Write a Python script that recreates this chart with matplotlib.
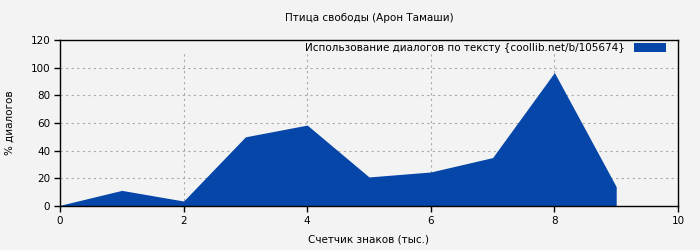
import matplotlib
matplotlib.use("Agg")
import matplotlib.pyplot as plt

# data
chars_k = [0, 1, 2, 3, 4, 5, 6, 7, 8, 9]
dialog_pct = [0.5, 11.3, 3.6, 50, 58.5, 21, 24.6, 35, 96.5, 14]
x_ticks = [0, 2, 4, 6, 8, 10]
y_ticks = [0, 20, 40, 60, 80, 100, 120]

title = "Птица свободы (Арон Тамаши)"
series_label = "Использование диалогов по тексту {coollib.net/b/105674}"
x_label = "Счетчик знаков (тыс.)"
y_label = "% диалогов"

bg = "#f3f3f3"
fill_color = "#0646a8"

plt.rcParams["font.family"] = ["DejaVu Sans"]
plt.rcParams["font.size"] = 7.5

fig = plt.figure(figsize=(7, 2.5), dpi=100, facecolor=bg)
ax = fig.add_axes([60 / 700, 1 - 206 / 250, 618 / 700, 166 / 250], facecolor=bg)

ax.fill_between(chars_k, dialog_pct, 0, color=fill_color, linewidth=0, label=series_label)

ax.set_xlim(0, 10)
ax.set_ylim(0, 120)
ax.set_xticks(x_ticks)
ax.set_yticks(y_ticks)

# grid: horizontal full width, vertical stops below the legend band
for y in y_ticks[1:-1]:
    ax.axhline(y, color="#aaaaaa", linestyle=(0, (2, 3)), linewidth=0.8, zorder=0)
for x in x_ticks[1:-1]:
    ax.axvline(x, ymax=0.92, color="#aaaaaa", linestyle=(0, (2, 3)), linewidth=0.8, zorder=0)

for s in ax.spines.values():
    s.set_linewidth(1)
    s.set_color("black")
ax.tick_params(direction="out", length=4, width=1, pad=3)

leg = ax.legend(loc="upper right", bbox_to_anchor=(0.989, 1.012), frameon=False,
                markerfirst=False, handlelength=3.1, handleheight=0.9,
                borderaxespad=0.1, handletextpad=0.8, fontsize=7.5)

fig.text(369 / 700, 1 - 18 / 250, title, ha="center", va="center", fontsize=7.5)
fig.text(369 / 700, 1 - 240 / 250, x_label, ha="center", va="center", fontsize=7.5)
fig.text(10 / 700, 1 - 123 / 250, y_label, ha="center", va="center", rotation=90, fontsize=7.5)

fig.savefig("out.png", dpi=100, facecolor=bg)
